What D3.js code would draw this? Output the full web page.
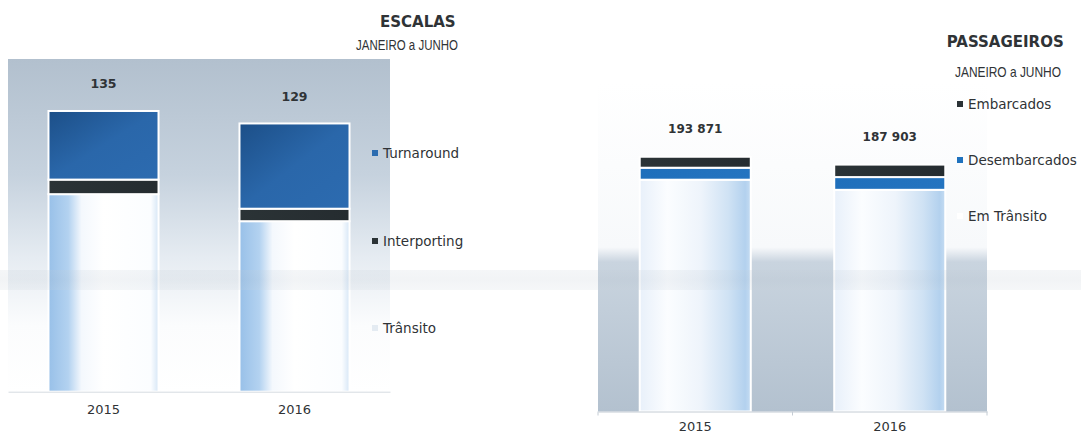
<!DOCTYPE html>
<html>
<head>
<meta charset="utf-8">
<script src="https://cdn.jsdelivr.net/npm/d3@7"></script>
<style>
  html, body { margin: 0; padding: 0; background: #ffffff; }
  svg { display: block; }
  text { font-family: "DejaVu Sans", Verdana, sans-serif; fill: #2f3336; }
</style>
</head>
<body>
<svg id="chart" width="1081" height="437"></svg>
<script>
// ---------- DATA ----------
const years = ["2015", "2016"];

// ESCALAS (ship calls), Janeiro a Junho
const escalasSeries = ["Transito", "Interporting", "Turnaround"];
const escalasLegend = ["Turnaround", "Interporting", "Trânsito"];
const escalasTransito = [95, 82];
const escalasInterporting = [7, 6];
const escalasTurnaround = [33, 41];
const escalasTotals = ["135", "129"];

// PASSAGEIROS, Janeiro a Junho
const passSeries = ["EmTransito", "Desembarcados", "Embarcados"];
const passLegend = ["Embarcados", "Desembarcados", "Em Trânsito"];
const passEmTransito = [176401, 168703];
const passDesembarcados = [9120, 9700];
const passEmbarcados = [8350, 9500];
const passTotals = ["193 871", "187 903"];

const titleLeft = "ESCALAS";
const titleRight = "PASSAGEIROS";
const subtitle = "JANEIRO a JUNHO";

// ---------- SETUP ----------
const svg = d3.select("#chart");
const defs = svg.append("defs");

function linGrad(id, x2, y2, stops) {
  const g = defs.append("linearGradient").attr("id", id)
    .attr("x1", 0).attr("y1", 0).attr("x2", x2).attr("y2", y2);
  stops.forEach(s => g.append("stop").attr("offset", s[0]).attr("stop-color", s[1]));
}
linGrad("leftBg", 0, 1, [[0, "#b2c0ce"], [0.35, "#c6d2de"], [0.6, "#e6ecf2"], [0.8, "#fbfcfd"], [1, "#ffffff"]]);
linGrad("rightBg", 0, 1, [[0, "#ffffff"], [0.5, "#f7f9fb"], [0.545, "#c9d4df"], [1, "#b3c1cf"]]);
linGrad("turnGrad", 1, 1, [[0, "#1c4f88"], [0.5, "#2a67aa"], [1, "#2c6bb0"]]);
linGrad("darkGrad", 1, 0, [[0, "#2b3336"], [1, "#252c30"]]);
linGrad("desGrad", 1, 0, [[0, "#1f6fbb"], [1, "#2474c0"]]);
linGrad("transL", 1, 0, [[0, "#98c0e8"], [0.18, "#b3d2f0"], [0.3, "#f4f8fd"], [0.5, "#ffffff"], [0.93, "#fbfdff"], [1, "#d6e6f6"]]);
linGrad("transR", 1, 0, [[0, "#e8f0fa"], [0.25, "#fbfdff"], [0.55, "#eef4fb"], [0.8, "#cfe2f4"], [0.95, "#b3d1ee"], [1, "#c5dcf2"]]);
linGrad("scanBand", 0, 1, [[0, "#c3cdd6"], [0.5, "#b5c0cb"], [1, "#c9d2da"]]);

// narrow subtitle: draw with a regular font and squeeze horizontally to the measured width
function narrowText(x, y, width, txt) {
  const g = svg.append("g");
  const t = g.append("text")
    .style("font-family", "'Liberation Sans Narrow', 'Arial Narrow', 'Liberation Sans', sans-serif")
    .style("font-size", "14.5px").text(txt);
  const natural = t.node().getComputedTextLength() || width;
  g.attr("transform", `translate(${x},${y}) scale(${width / natural},1)`);
}

// ---------- LEFT CHART: ESCALAS ----------
const L = { x0: 8, x1: 390, yTop: 59, yBase: 391.7 };
const xL = d3.scaleBand().domain(years).range([L.x0, L.x1]).paddingInner(0.424).paddingOuter(0.212);
const yL = d3.scaleLinear().domain([0, 160]).range([L.yBase, L.yTop]);

svg.append("rect").attr("x", L.x0).attr("y", L.yTop)
  .attr("width", L.x1 - L.x0).attr("height", L.yBase - L.yTop).attr("fill", "url(#leftBg)");

const escRows = years.map((y, i) => ({
  year: y,
  Transito: escalasTransito[i],
  Interporting: escalasInterporting[i],
  Turnaround: escalasTurnaround[i]
}));
const escStack = d3.stack().keys(escalasSeries)(escRows);
const escFill = { Transito: "url(#transL)", Interporting: "url(#darkGrad)", Turnaround: "url(#turnGrad)" };

svg.append("g").selectAll("g").data(escStack).join("g")
  .attr("fill", d => escFill[d.key])
  .selectAll("rect").data(d => d).join("rect")
  .attr("x", d => xL(d.data.year))
  .attr("width", xL.bandwidth())
  .attr("y", d => yL(d[1]))
  .attr("height", d => yL(d[0]) - yL(d[1]))
  .attr("stroke", "#ffffff").attr("stroke-width", 2);

// x axis left
const axL = svg.append("g").attr("transform", `translate(0,${L.yBase})`)
  .call(d3.axisBottom(xL).tickSize(0).tickPadding(13));
axL.select(".domain").attr("stroke", "#d5dbe1").attr("stroke-width", 1);
axL.selectAll("text").style("font-family", "DejaVu Sans, Verdana, sans-serif")
  .style("font-size", "13px").attr("fill", "#333");

// totals left
svg.append("g").selectAll("text").data(years).join("text")
  .attr("x", d => xL(d) + xL.bandwidth() / 2)
  .attr("y", (d, i) => yL(escalasTransito[i] + escalasInterporting[i] + escalasTurnaround[i]) - 27)
  .attr("dy", "0.35em").attr("text-anchor", "middle")
  .style("font-weight", "bold").style("font-size", "12.5px")
  .text((d, i) => escalasTotals[i]);

// titles left
svg.append("text").attr("x", 380).attr("y", 26.7)
  .style("font-weight", "bold").style("font-size", "15px").text(titleLeft);
narrowText(356, 50, 102, subtitle);

// legend left
const legLColors = ["#2b6cb0", "#2b3336", "#e4ebf2"];
const legLY = [153, 241, 328];
const legL = svg.append("g").selectAll("g").data(escalasLegend).join("g")
  .attr("transform", (d, i) => `translate(372,${legLY[i]})`);
legL.append("rect").attr("x", 0).attr("y", -3).attr("width", 6).attr("height", 6)
  .attr("fill", (d, i) => legLColors[i]);
legL.append("text").attr("x", 11).attr("dy", "0.36em")
  .style("font-size", "13.5px").text(d => d);

// ---------- RIGHT CHART: PASSAGEIROS ----------
const R = { x0: 598, x1: 987, yTop: 83, yBase: 411.5 };
const xR = d3.scaleBand().domain(years).range([R.x0, R.x1]).paddingInner(0.429).paddingOuter(0.2145);
const yR = d3.scaleLinear().domain([0, 250000]).range([R.yBase, R.yTop]);

svg.append("rect").attr("x", R.x0).attr("y", R.yTop)
  .attr("width", R.x1 - R.x0).attr("height", R.yBase - R.yTop).attr("fill", "url(#rightBg)");

const passRows = years.map((y, i) => ({
  year: y,
  EmTransito: passEmTransito[i],
  Desembarcados: passDesembarcados[i],
  Embarcados: passEmbarcados[i]
}));
const passStack = d3.stack().keys(passSeries)(passRows);
const passFill = { EmTransito: "url(#transR)", Desembarcados: "url(#desGrad)", Embarcados: "url(#darkGrad)" };

svg.append("g").selectAll("g").data(passStack).join("g")
  .attr("fill", d => passFill[d.key])
  .selectAll("rect").data(d => d).join("rect")
  .attr("x", d => xR(d.data.year))
  .attr("width", xR.bandwidth())
  .attr("y", d => yR(d[1]))
  .attr("height", d => yR(d[0]) - yR(d[1]))
  .attr("stroke", "#ffffff").attr("stroke-width", 2);

// x axis right (ticks between categories)
const axR = svg.append("g").attr("transform", `translate(0,${R.yBase})`)
  .call(d3.axisBottom(xR).tickSize(0).tickPadding(10));
axR.select(".domain").attr("stroke", "#c4ccd4").attr("stroke-width", 1);
axR.selectAll("text").style("font-family", "DejaVu Sans, Verdana, sans-serif")
  .style("font-size", "13px").attr("fill", "#333");
const dividers = [R.x0, (xR(years[0]) + xR.bandwidth() + xR(years[1])) / 2, R.x1];
axR.selectAll(".div").data(dividers).join("line").attr("class", "div")
  .attr("x1", d => d).attr("x2", d => d).attr("y1", 0).attr("y2", 4)
  .attr("stroke", "#c4ccd4");

// totals right
svg.append("g").selectAll("text").data(years).join("text")
  .attr("x", d => xR(d) + xR.bandwidth() / 2)
  .attr("y", (d, i) => yR(passEmTransito[i] + passDesembarcados[i] + passEmbarcados[i]) - 28)
  .attr("dy", "0.35em").attr("text-anchor", "middle")
  .style("font-weight", "bold").style("font-size", "12px")
  .text((d, i) => passTotals[i]);

// titles right
svg.append("text").attr("x", 946.7).attr("y", 46.5)
  .style("font-weight", "bold").style("font-size", "15px").text(titleRight);
narrowText(955, 77, 106, subtitle);

// legend right
const legRColors = ["#2b3336", "#1f72be", "#ffffff"];
const legRY = [104, 160, 216];
const legR = svg.append("g").selectAll("g").data(passLegend).join("g")
  .attr("transform", (d, i) => `translate(957,${legRY[i]})`);
legR.append("rect").attr("x", 0).attr("y", -3).attr("width", 6).attr("height", 6)
  .attr("fill", (d, i) => legRColors[i]);
legR.append("text").attr("x", 11).attr("dy", "0.36em")
  .style("font-size", "13.5px").text(d => d);

// faint horizontal scan band (artifact in the reference picture)
svg.append("rect").attr("x", 0).attr("y", 270).attr("width", 1081).attr("height", 20)
  .attr("fill", "url(#scanBand)").attr("opacity", 0.18).style("pointer-events", "none");
</script>
</body>
</html>
